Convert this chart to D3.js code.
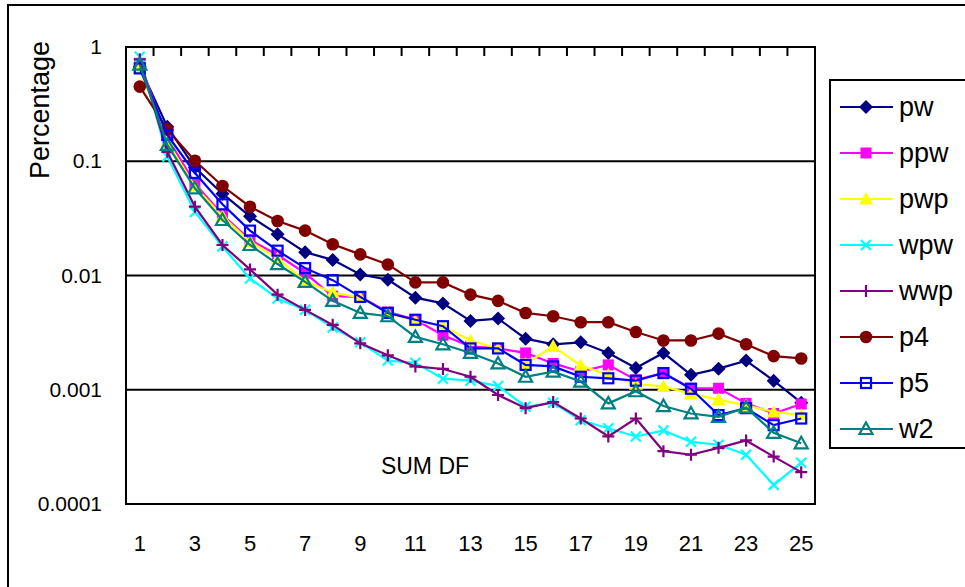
<!DOCTYPE html>
<html>
<head>
<meta charset="utf-8">
<script src="https://cdn.jsdelivr.net/npm/d3@7"></script>
<style>
  body { margin: 0; background: #fff; }
  svg { display: block; font-family: "Liberation Sans", Arial, sans-serif; }
</style>
</head>
<body>
<div id="chart"></div>
<script>
// Data
const categories = d3.range(1, 26);
const xTickLabels = [1, 3, 5, 7, 9, 11, 13, 15, 17, 19, 21, 23, 25];
const yTickValues = [1, 0.1, 0.01, 0.001, 0.0001];
const gridValues = [0.1, 0.01, 0.001];

const pw  = [0.67, 0.20, 0.088, 0.052, 0.033, 0.023, 0.016, 0.0137, 0.0102, 0.0092, 0.0064, 0.0057, 0.0040, 0.0042, 0.0028, 0.0025, 0.0026, 0.0021, 0.00155, 0.0021, 0.00135, 0.00153, 0.0018, 0.0012, 0.00077];
const ppw = [0.72, 0.16, 0.064, 0.034, 0.0205, 0.0151, 0.0105, 0.0066, 0.0065, 0.0048, 0.0041, 0.0030, 0.0024, 0.0023, 0.0021, 0.0017, 0.00144, 0.00165, 0.00122, 0.0014, 0.00103, 0.00103, 0.00076, 0.00062, 0.00075];
const pwp = [0.65, 0.148, 0.060, 0.033, 0.0198, 0.0141, 0.0089, 0.0071, 0.0064, 0.0047, 0.0040, 0.0036, 0.0027, 0.0023, 0.00168, 0.0024, 0.00163, 0.00135, 0.00112, 0.00107, 0.00092, 0.00082, 0.00073, 0.00064, 0.0006];
const wpw = [0.82, 0.11, 0.036, 0.0179, 0.0094, 0.0063, 0.005, 0.0035, 0.0026, 0.0018, 0.00172, 0.00125, 0.0012, 0.00108, 0.00071, 0.00077, 0.00054, 0.00046, 0.00039, 0.00044, 0.00035, 0.00033, 0.00027, 0.000147, 0.00023];
const wwp = [0.78, 0.121, 0.040, 0.0185, 0.0113, 0.0068, 0.005, 0.0037, 0.00255, 0.0020, 0.0016, 0.00152, 0.0013, 0.0009, 0.00069, 0.00078, 0.00056, 0.00039, 0.00056, 0.00029, 0.00027, 0.00031, 0.00036, 0.00026, 0.00019];
const p4  = [0.45, 0.19, 0.101, 0.0607, 0.040, 0.030, 0.0247, 0.0188, 0.0153, 0.0125, 0.0087, 0.0087, 0.0068, 0.0060, 0.0047, 0.0044, 0.0039, 0.0039, 0.0032, 0.0027, 0.0027, 0.0031, 0.0025, 0.00197, 0.00188];
const p5  = [0.65, 0.17, 0.079, 0.042, 0.0247, 0.0165, 0.0116, 0.0091, 0.0065, 0.0047, 0.0041, 0.0036, 0.0023, 0.0023, 0.00165, 0.0016, 0.0013, 0.00126, 0.0012, 0.0014, 0.00102, 0.0006, 0.00069, 0.00049, 0.00056];
const w2  = [0.70, 0.139, 0.058, 0.0306, 0.0185, 0.0126, 0.0088, 0.006, 0.0047, 0.0044, 0.0029, 0.0025, 0.0021, 0.0017, 0.0013, 0.00144, 0.00118, 0.00076, 0.00097, 0.00072, 0.00062, 0.00058, 0.00070, 0.00042, 0.00034];

const seriesNames = ["pw", "ppw", "pwp", "wpw", "wwp", "p4", "p5", "w2"];
const seriesValues = [pw, ppw, pwp, wpw, wwp, p4, p5, w2];
const seriesColors = ["#000080", "#ff00ff", "#ffff00", "#00ffff", "#800080", "#800000", "#0000ff", "#008080"];
const seriesMarkers = ["diamond", "square", "triangle", "cross", "plus", "circle", "hollowSquare", "hollowTriangle"];

// Layout
const W = 965, H = 587;
const plot = { left: 126, right: 815, top: 47, bottom: 504 };

const svg = d3.select("#chart").append("svg")
    .attr("width", W)
    .attr("height", H);

// outer chart frame (runs off the right and bottom edge)
svg.append("rect")
    .attr("x", 8).attr("y", 5)
    .attr("width", W + 20).attr("height", H + 20)
    .attr("fill", "#fff")
    .attr("stroke", "#000")
    .attr("stroke-width", 2);

// Scales
const x = d3.scaleBand().domain(categories).range([plot.left, plot.right]);
const cx = d => x(d) + x.bandwidth() / 2;
const y = d3.scaleLog().domain([0.0001, 1]).range([plot.bottom, plot.top]);

// grid lines
svg.append("g").selectAll("line")
    .data(gridValues)
    .join("line")
    .attr("x1", plot.left).attr("x2", plot.right)
    .attr("y1", d => y(d)).attr("y2", d => y(d))
    .attr("stroke", "#000")
    .attr("stroke-width", 2);

// tick marks hanging from the top edge at category boundaries
svg.append("g").selectAll("line")
    .data(categories.slice(1))
    .join("line")
    .attr("x1", d => x(d)).attr("x2", d => x(d))
    .attr("y1", plot.top).attr("y2", plot.top + 9)
    .attr("stroke", "#000")
    .attr("stroke-width", 2);

// plot border
svg.append("rect")
    .attr("x", plot.left).attr("y", plot.top)
    .attr("width", plot.right - plot.left)
    .attr("height", plot.bottom - plot.top)
    .attr("fill", "none")
    .attr("stroke", "#000")
    .attr("stroke-width", 2);

// Axes (labels only)
const xAxis = svg.append("g")
    .attr("transform", `translate(0,${plot.bottom})`)
    .call(d3.axisBottom(x).tickValues(xTickLabels).tickSize(0).tickPadding(31));
xAxis.select(".domain").remove();
xAxis.selectAll("text")
    .attr("font-size", 22)
    .attr("fill", "#000")
    .attr("font-family", "Liberation Sans, Arial, sans-serif");

const yAxis = svg.append("g")
    .attr("transform", `translate(${plot.left},0)`)
    .call(d3.axisLeft(y).tickValues(yTickValues).tickSize(0).tickPadding(24).tickFormat(d => String(d)));
yAxis.select(".domain").remove();
yAxis.selectAll("text")
    .attr("font-size", 21)
    .attr("fill", "#000")
    .attr("font-family", "Liberation Sans, Arial, sans-serif");

// axis titles
svg.append("text")
    .attr("transform", "translate(49,110) rotate(-90)")
    .attr("text-anchor", "middle")
    .attr("font-size", 27)
    .text("Percentage");

svg.append("text")
    .attr("x", 425).attr("y", 474)
    .attr("text-anchor", "middle")
    .attr("font-size", 23)
    .text("SUM DF");

// Marker drawing
function marker(sel, type, color) {
    switch (type) {
        case "diamond":
            sel.append("path").attr("d", "M0,-7L7,0L0,7L-7,0Z").attr("fill", color);
            break;
        case "square":
            sel.append("rect").attr("x", -5.5).attr("y", -5.5).attr("width", 11).attr("height", 11).attr("fill", color);
            break;
        case "triangle":
            sel.append("path").attr("d", "M0,-7L7,5.5L-7,5.5Z").attr("fill", color);
            break;
        case "cross":
            sel.append("path").attr("d", "M-5,-5L5,5M-5,5L5,-5").attr("stroke", color).attr("stroke-width", 2.2).attr("fill", "none");
            break;
        case "plus":
            sel.append("path").attr("d", "M-6,0L6,0M0,-6L0,6").attr("stroke", color).attr("stroke-width", 2.2).attr("fill", "none");
            break;
        case "circle":
            sel.append("circle").attr("r", 6.3).attr("fill", color);
            break;
        case "hollowSquare":
            sel.append("rect").attr("x", -5).attr("y", -5).attr("width", 10).attr("height", 10)
                .attr("fill", "none").attr("stroke", color).attr("stroke-width", 2.2);
            break;
        case "hollowTriangle":
            sel.append("path").attr("d", "M0,-6.5L6.5,5L-6.5,5Z")
                .attr("fill", "none").attr("stroke", color).attr("stroke-width", 2.2);
            break;
    }
}

const line = d3.line()
    .x((d, i) => cx(categories[i]))
    .y(d => y(d));

// Series: line then markers, in series order
seriesNames.forEach((name, si) => {
    const g = svg.append("g").attr("class", "series-" + name);
    g.append("path")
        .datum(seriesValues[si])
        .attr("d", line)
        .attr("fill", "none")
        .attr("stroke", seriesColors[si])
        .attr("stroke-width", 2.2);
    g.selectAll("g.m")
        .data(seriesValues[si])
        .join("g")
        .attr("class", "m")
        .attr("transform", (d, i) => `translate(${cx(categories[i])},${y(d)})`)
        .each(function () { marker(d3.select(this), seriesMarkers[si], seriesColors[si]); });
});

// Legend
const legend = svg.append("g");
legend.append("rect")
    .attr("x", 830).attr("y", 80)
    .attr("width", 160).attr("height", 368)
    .attr("fill", "#fff")
    .attr("stroke", "#000")
    .attr("stroke-width", 2);

const rows = legend.selectAll("g.row")
    .data(seriesNames)
    .join("g")
    .attr("class", "row")
    .attr("transform", (d, i) => `translate(0,${107 + i * 46})`);

rows.append("line")
    .attr("x1", 840).attr("x2", 893)
    .attr("stroke", (d, i) => seriesColors[i])
    .attr("stroke-width", 2.2);

rows.append("g")
    .attr("transform", "translate(866,0)")
    .each(function (d, i) { marker(d3.select(this), seriesMarkers[i], seriesColors[i]); });

rows.append("text")
    .attr("x", 899)
    .attr("dy", "0.35em")
    .attr("font-size", 27)
    .text(d => d);
</script>
</body>
</html>
